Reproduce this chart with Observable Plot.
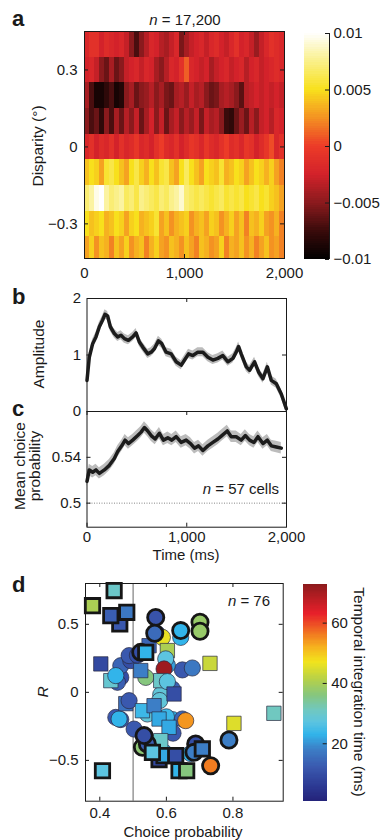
<!DOCTYPE html>
<html><head><meta charset="utf-8">
<script src="https://cdn.jsdelivr.net/npm/d3@7"></script>
<script src="https://cdn.jsdelivr.net/npm/@observablehq/plot@0.6"></script>
<style>
body{margin:0;background:#fff;}
#root{position:relative;width:382px;height:840px;overflow:hidden;font-family:"Liberation Sans",Arial,Helvetica,sans-serif;color:#1a1a1a;}
#root svg{position:absolute;left:0;top:0;}
.t{position:absolute;white-space:nowrap;line-height:0.85;font-size:15.5px;}
.L{position:absolute;font-weight:bold;font-size:22px;line-height:22px;}
</style></head><body><div id="root"></div>
<script>
// ---------- panel a: heat map (values in units of 0.001) ----------
const heatDisparity = [0.4, 0.3, 0.2, 0.1, 0, -0.1, -0.2, -0.3, -0.4];
const heatBinStart = d3.range(0, 2000, 50); // 50-ms bins
const heatBinWidth = 50;
const heatRow04 = [-2,-1,-1,-2.5,-1.5,-2,-2.5,-2,-3,-5,-7,-5,-3.5,-2,-2.5,-3.5,-4,-3,-2,-5.5,-4,-3,-2.5,-2,-3,-2,-1.5,-2.5,-3,-2,-1,-2.5,-2,-3,-4.5,-3,-2,-1,-1.5,-2];
const heatRow03 = [-2.5,-2,-3,-5,-6,-4,-6,-5,-3,-2.5,-2,-3,-2,-2.5,-4,-5,-3.5,-2,-2.5,-1,1,-2,-2.5,-3,-2.5,-4,-3,-2.5,-2,-3,-2.5,-2,-3.5,-2.5,-2,-3,-2.5,-2,-1.5,-2];
const heatRow02 = [-4,-7,-9,-9,-8,-7,-9,-8.5,-5,-4,-6,-5,-4.5,-3.5,-5,-4,-5.5,-6,-4,-3.5,-4.5,-3,-4,-3.5,-5,-6,-5.5,-4,-3.5,-4,-5,-6.5,-3.5,-3,-2.5,-3,-2.5,-3,-2.5,-3];
const heatRow01 = [-5,-7,-6,-8,-5,-7,-4,-6,-3.5,-5,-3,-6,-4,-2.5,-5,-3,-6,-4,-3,-5,-3.5,-4.5,-3,-5.5,-3,-4,-3.5,-5,-7.5,-8,-6,-4.5,-6,-3.5,-5,-3,-2.5,-3.5,-2,-2.5];
const heatRow00 = [-2,-1,-2.5,-1.5,-2,-1,-2.5,-1,-2,-1.5,-0.5,-2,-1.5,-2.5,-1,0,-1.5,-2,-1,-2.5,-1.5,-0.5,-1,-2,-0.5,-1.5,-2,-1,0,-1.5,-1,-2,-0.5,-1,-2.5,-1.5,-0.5,0.5,-2,-1];
const heatRowM01 = [4,5,4.5,3,5.5,6,5,4,3,5,6,4.5,3.5,5,4,5.5,6,4,3,5,6.5,5,4,3,5,4.5,4,5.5,3.5,4,5,4.5,3,4,5,4.5,3.5,4.5,3,2];
const heatRowM02 = [7,8,9.5,10,8,7,7.5,8,6.5,7,6,7.5,7,6.5,6,7,6.5,7.5,8,9,7,6.5,6,6.5,6,5.5,6,6.5,5.5,6,5.5,6,5,5.5,6,5,5.5,4.5,4,3];
const heatRowM03 = [5,4,4.5,5,3.5,4,5,4.5,3,4.5,5,3.5,4,4.5,5.5,3,4,2.5,3.5,4,4.5,2.5,3.5,4,3,4.5,4,2.5,3.5,4.5,3,4,2,4,3.5,4.5,3,2.5,3.5,2];
const heatRowM04 = [3,4.5,2.5,4,3.5,2,4,3,4.5,2.5,3.5,4,2,3.5,4.5,3,2.5,4,3.5,2.5,4,3,2,4,3.5,2.5,3,4.5,2,3.5,3,4,2.5,3.5,2,3,4,2.5,3,2];
const heatRows = [heatRow04, heatRow03, heatRow02, heatRow01, heatRow00, heatRowM01, heatRowM02, heatRowM03, heatRowM04];
const heatTicksX = [0, 1000, 2000];
const heatTicksY = [-0.3, 0, 0.3];
const heatColorTicks = [-10, -5, 0, 5, 10];

// ---------- panel b: amplitude ----------
const bTime = [0,23,57,90,124,157,180,207,234,274,308,341,375,415,458,492,525,559,609,643,676,716,750,793,844,894,944,978,1018,1061,1111,1162,1212,1262,1312,1362,1413,1463,1496,1520,1546,1597,1630,1680,1720,1764,1808,1848,1898,1948,1998];
const bAmp = [0.55,0.96,1.2,1.32,1.5,1.62,1.72,1.69,1.5,1.38,1.32,1.35,1.29,1.26,1.32,1.39,1.23,1.14,1.02,1.05,1.11,1.25,1.2,1.05,1.02,0.88,0.82,0.91,1.02,0.99,1.05,1.05,0.96,0.91,0.94,0.99,0.88,0.94,1.05,1.15,1.02,0.79,0.73,0.88,0.7,0.58,0.79,0.55,0.49,0.31,0.05];
const bSE = 0.08;
const bTicksY = [0, 1, 2];

// ---------- panel c: mean choice probability ----------
const cTime = [0,23,57,90,124,174,224,274,308,348,382,415,458,508,542,576,609,643,683,726,766,810,850,894,944,994,1038,1078,1118,1162,1212,1262,1312,1352,1406,1446,1496,1546,1587,1630,1673,1714,1764,1808,1848,1898,1948];
const cProb = [0.519,0.529,0.527,0.529,0.526,0.529,0.533,0.539,0.545,0.55,0.555,0.552,0.555,0.559,0.562,0.566,0.563,0.559,0.556,0.561,0.555,0.557,0.555,0.558,0.553,0.555,0.552,0.548,0.55,0.546,0.55,0.553,0.556,0.559,0.563,0.558,0.558,0.555,0.559,0.555,0.553,0.558,0.552,0.555,0.55,0.549,0.548];
const cSE = 0.005;
const cTicksY = [0.5, 0.54];
const cTicksX = [0, 1000, 2000];

// ---------- panel d: scatter ----------
const dShape = ["c","c","c","c","c","c","c","c","c","c","c","c","c","c","c","c","c","c","c","c","c","c","c","c","c","c","c","c","s","s","c","c","s","s","c","s","s","c","s","s","c","s","s","s","s","s","s","s","s","c","c","c","c","c","c","c","c","c","c","c","c","c","s","s","s","s","s","s","s","s","s","s","s","s","s","s"];
const dCP = [0.463,0.453,0.463,0.493,0.488,0.513,0.538,0.573,0.588,0.643,0.648,0.678,0.618,0.583,0.58,0.448,0.463,0.458,0.503,0.543,0.618,0.648,0.658,0.62,0.6,0.593,0.673,0.603,0.548,0.603,0.598,0.593,0.403,0.433,0.448,0.523,0.583,0.603,0.623,0.478,0.488,0.528,0.563,0.578,0.608,0.583,0.731,0.803,0.923,0.528,0.543,0.533,0.688,0.683,0.788,0.733,0.568,0.565,0.643,0.701,0.701,0.523,0.538,0.46,0.433,0.481,0.443,0.378,0.578,0.593,0.558,0.628,0.708,0.638,0.661,0.408];
const dR = [0.11,0.074,0.196,0.233,0.27,0.273,0.11,0.43,0.404,0.404,0.165,0.179,0.025,-0.017,-0.06,-0.184,-0.2,-0.196,-0.27,-0.159,-0.2,-0.196,-0.208,-0.3,-0.18,-0.44,-0.45,0.2,0.343,0.307,0.246,0.172,0.209,0.086,0.123,0.16,0.086,0.079,-0.012,-0.083,-0.061,-0.135,-0.098,-0.196,-0.257,-0.355,0.213,-0.228,-0.154,-0.404,-0.38,-0.318,-0.38,-0.441,-0.35,-0.539,0.551,0.434,0.454,0.515,0.449,0.294,0.294,0.503,0.564,0.588,0.748,0.637,-0.495,-0.465,-0.441,-0.465,-0.416,-0.576,-0.576,-0.576];
const dTime = [10,13,14,10,12,10,36,12,46,23,12,17,13,28,28,12,12,23,12,28,23,14,54,12,24,23,23,21,14,40,27,71,9,29,23,18,30,27,10,16,12,24,18,22,22,30,43,45,31,37,13,10,10,18,18,56,11,15,23,38,38,10,23,12,13,17,30,40,9,22,27,10,18,23,36,27];
const dBold = [0,0,0,0,0,0,0,0,0,0,0,0,0,0,0,0,0,0,0,0,0,0,0,0,0,0,0,0,0,0,0,0,0,0,0,0,0,0,0,0,0,0,0,0,0,0,0,0,0,1,1,1,1,1,1,1,1,1,1,1,1,1,1,1,1,1,1,1,1,1,1,1,1,1,1,1];
const dTicksX = [0.4, 0.6, 0.8];
const dTicksY = [-0.5, 0, 0.5];
const dColorTicks = [20, 40, 60];

// ---------- colour maps ----------
const heatColor = {type: "linear", domain: [-10,-7.5,-5,-2.5,0,2.5,5,7.5,10],
  range: ["#000000","#3a0b0b","#8a1a1d","#d3222a","#ec3b28","#f49222","#f8e01c","#faf08a","#ffffff"], clamp: true};
const jetColor = {type: "linear", domain: [1,6,12,18,23,27,31,36,41,47,52,56,63,73],
  range: ["#24237a","#2c3a94","#3a58ae","#3c7ec6","#32b4ea","#5cc4e0","#70c8c0","#86c67e","#b4d04a","#f2e41c","#f6b01e","#f27c20","#e8202a","#8a1a1c"], clamp: true};

const FONT = "Liberation Sans, Arial, Helvetica, sans-serif";
const style = {fontFamily: FONT, fontSize: "15px", color: "#1a1a1a", background: "transparent", overflow: "visible"};
const W = 382, H = 840, INK = "#1a1a1a";
const fmtG = d3.format("~g");
const fmtK = d3.format(",");

function box(l, r, t, b) { return {width: W, height: H, marginLeft: l, marginRight: r, marginTop: t, marginBottom: b}; }
function tX(vals, side, ph, len = 4) {
  return Plot.tickX(vals, {x: d => d, stroke: INK, strokeWidth: 1,
    insetTop: side === "bottom" ? ph - len : 0, insetBottom: side === "top" ? ph - len : 0});
}
function tY(vals, side, pw, len = 4) {
  return Plot.tickY(vals, {y: d => d, stroke: INK, strokeWidth: 1,
    insetRight: side === "left" ? pw - len : 0, insetLeft: side === "right" ? pw - len : 0});
}

const root = document.getElementById("root");

// panel a heat map
const heat = heatRows.flatMap((row, i) => row.map((v, j) => ({t: heatBinStart[j], disp: heatDisparity[i], v})));
{
  const L = 84, R = 98, T = 31, B = 582, pw = W - L - R, ph = H - T - B;
  root.append(Plot.plot({...box(L, R, T, B), style,
    x: {domain: [0, 2000], axis: null}, y: {domain: [-0.435, 0.45], axis: null}, color: heatColor,
    marks: [
      Plot.rect(heat, {x1: "t", x2: d => d.t + heatBinWidth, y1: d => d.disp - 0.05, y2: d => d.disp + 0.05, fill: "v", clip: true, shapeRendering: "crispEdges"}),
      Plot.frame({stroke: INK}),
      Plot.axisX(heatTicksX, {anchor: "bottom", tickSize: 0, tickPadding: 8.5, tickFormat: fmtK, label: null}),
      Plot.axisY(heatTicksY, {anchor: "left", tickSize: 0, tickPadding: 7, tickFormat: fmtG, label: null}),
      tX(heatTicksX, "bottom", ph), tX(heatTicksX, "top", ph), tY(heatTicksY, "left", pw), tY(heatTicksY, "right", pw)
    ]}));
}
// panel a colour bar (overlapping slices avoid seams)
{
  const L = 304, R = 53, T = 33, B = 581, pw = W - L - R;
  const step = 0.2;
  const slices = d3.range(-10, 10, step);
  root.append(Plot.plot({...box(L, R, T, B), style,
    x: {domain: [0, 1], axis: null}, y: {domain: [-10, 10], axis: null}, color: heatColor,
    marks: [
      Plot.rect(slices, {x1: 0, x2: 1, y1: d => d, y2: d => Math.min(d + step * 2, 10), fill: d => d + step / 2, shapeRendering: "crispEdges"}),
      Plot.ruleX([1], {stroke: INK}),
      tY(heatColorTicks, "right", pw),
      Plot.axisY(heatColorTicks, {anchor: "right", tickSize: 0, tickPadding: 4, tickFormat: d => fmtG(d / 1000), label: null})
    ]}));
}
// panel b
const bData = bTime.map((t, i) => ({t, a: bAmp[i]}));
{
  const L = 86.5, R = 96, T = 298, B = 429, pw = W - L - R, ph = H - T - B;
  root.append(Plot.plot({...box(L, R, T, B), style,
    x: {domain: [0, 2000], axis: null}, y: {domain: [0, 2], axis: null},
    marks: [
      Plot.areaY(bData, {x: "t", y1: d => d.a - bSE, y2: d => d.a + bSE, fill: "#bcbcbc"}),
      Plot.line(bData, {x: "t", y: "a", stroke: "#1c1c1c", strokeWidth: 3.5, strokeLinejoin: "round"}),
      Plot.frame({stroke: INK}),
      Plot.axisY(bTicksY, {anchor: "left", tickSize: 0, tickPadding: 6, tickFormat: fmtG, label: null}),
      tY([1], "left", pw), tY([1], "right", pw), tX([1000], "top", ph)
    ]}));
}
// panel c
const cData = cTime.map((t, i) => ({t, p: cProb[i]}));
{
  const L = 86.5, R = 96, T = 411, B = 313.3, pw = W - L - R, ph = H - T - B;
  root.append(Plot.plot({...box(L, R, T, B), style,
    x: {domain: [0, 2000], axis: null}, y: {domain: [0.479, 0.58], axis: null},
    marks: [
      Plot.ruleY([0.5], {stroke: "#666", strokeWidth: 0.8, strokeDasharray: "1,1.5"}),
      Plot.areaY(cData, {x: "t", y1: d => d.p - cSE, y2: d => d.p + cSE, fill: "#bcbcbc"}),
      Plot.line(cData, {x: "t", y: "p", stroke: "#1c1c1c", strokeWidth: 3.5, strokeLinejoin: "round"}),
      Plot.frame({stroke: INK}),
      Plot.axisY(cTicksY, {anchor: "left", tickSize: 0, tickPadding: 6, tickFormat: fmtG, label: null}),
      Plot.axisX(cTicksX, {anchor: "bottom", tickSize: 0, tickPadding: 4, tickFormat: fmtK, label: null}),
      tY(cTicksY, "left", pw), tY(cTicksY, "right", pw), tX(cTicksX, "top", ph), tX(cTicksX, "bottom", ph)
    ]}));
}
// panel d
const pts = dCP.map((cp, i) => ({cp, r: dR[i], time: dTime[i], shape: dShape[i] === "s" ? "square" : "circle", bold: dBold[i]}));
{
  const L = 85, R = 99.3, T = 583, B = 39.3, pw = W - L - R, ph = H - T - B;
  root.append(Plot.plot({...box(L, R, T, B), style,
    x: {domain: [0.357, 0.951], axis: null}, y: {domain: [-0.8, 0.8], axis: null}, color: jetColor,
    marks: [
      Plot.ruleX([0.5], {stroke: "#555", strokeWidth: 0.9}),
      Plot.dot(pts, {x: "cp", y: "r", symbol: "shape", fill: "time", r: 8.1,
        stroke: d => d.bold ? "#161616" : "#2a2a40", strokeWidth: d => d.bold ? 2.8 : 0.7}),
      Plot.frame({stroke: INK}),
      Plot.axisY(dTicksY, {anchor: "left", tickSize: 0, tickPadding: 7, tickFormat: fmtG, label: null}),
      Plot.axisX(dTicksX, {anchor: "bottom", tickSize: 0, tickPadding: 6.5, tickFormat: fmtG, label: null}),
      tY(dTicksY, "left", pw), tY(dTicksY, "right", pw), tX(dTicksX, "top", ph), tX(dTicksX, "bottom", ph)
    ]}));
}
// panel d colour bar
{
  const L = 302.7, R = 55.3, T = 584, B = 39.3, pw = W - L - R;
  const lo = 0.96, hi = 72.8, step = 0.4;
  const slices = d3.range(lo, hi, step);
  root.append(Plot.plot({...box(L, R, T, B), style,
    x: {domain: [0, 1], axis: null}, y: {domain: [lo, hi], axis: null}, color: jetColor,
    marks: [
      Plot.rect(slices, {x1: 0, x2: 1, y1: d => d, y2: d => Math.min(d + step * 2, hi), fill: d => d + step / 2, shapeRendering: "crispEdges"}),
      tY(dColorTicks, "right", pw),
      Plot.axisY(dColorTicks, {anchor: "right", tickSize: 0, tickPadding: 4, tickFormat: fmtG, label: null})
    ]}));
}

// ---------- text ----------
function txt(html, x, y, {rot = 0, align = "center", size, italic = false} = {}) {
  const el = document.createElement("div");
  el.className = "t";
  el.innerHTML = html;
  el.style.left = x + "px"; el.style.top = y + "px";
  const tx = align === "center" ? "-50%" : align === "right" ? "-100%" : "0";
  el.style.transform = `translate(${tx},-50%) rotate(${rot}deg)`;
  if (size) el.style.fontSize = size + "px";
  if (italic) el.style.fontStyle = "italic";
  el.style.textAlign = "center";
  root.append(el);
}
function letter(ch, x, baseline) {
  const el = document.createElement("div");
  el.className = "L"; el.textContent = ch;
  el.style.left = x + "px"; el.style.top = (baseline - 18.6) + "px";
  root.append(el);
}
letter("a", 12, 27); letter("b", 12, 305); letter("c", 12, 417); letter("d", 12, 593);
txt("<i>n</i> = 17,200", 185, 20, {size: 15});
txt("Disparity (°)", 38, 146, {rot: -90});
txt("Amplitude", 39, 354, {rot: -90});
const mc = document.createElement("div");
mc.className = "t"; mc.innerHTML = "Mean choice<br>probability";
Object.assign(mc.style, {left: "27px", top: "466px", lineHeight: "15px", textAlign: "center", transform: "translate(-50%,-50%) rotate(-90deg)"});
root.append(mc);
txt("<i>n</i> = 57 cells", 279, 489, {align: "right", size: 15});
txt("Time (ms)", 186, 554.5, {size: 15});
txt("<i>n</i> = 76", 270, 601, {align: "right", size: 15});
txt("R", 43, 692, {rot: -90, italic: true});
txt("Choice probability", 183, 831.5, {size: 15});
txt("Temporal integration time (ms)", 359, 692, {rot: 90});
</script></body></html>
